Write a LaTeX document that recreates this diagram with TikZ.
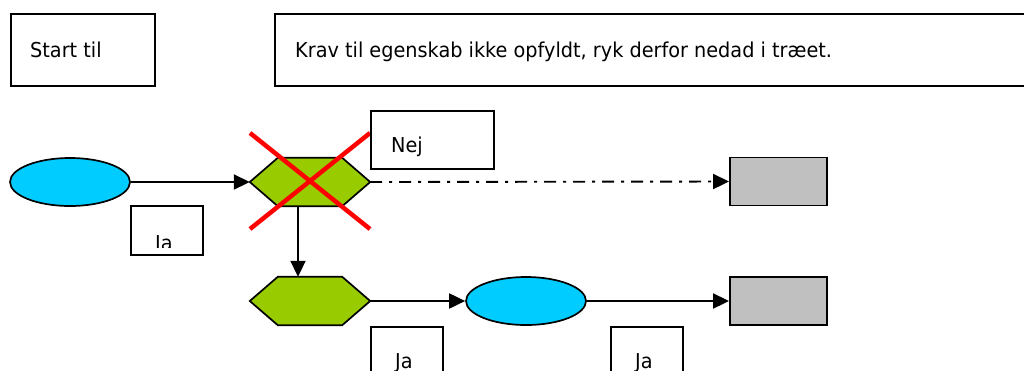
\documentclass[tikz,border=0pt]{standalone}
\usepackage{fontspec}
\setmainfont{DejaVu Sans}[FakeStretch=0.94]
\usetikzlibrary{arrows.meta,shapes.geometric}
\definecolor{cyanfill}{HTML}{00CCFF}
\definecolor{greenfill}{HTML}{99CC00}
\definecolor{grayfill}{HTML}{C0C0C0}
\begin{document}
\begin{tikzpicture}[x=1pt,y=-1pt,
  txt/.style={font=\fontsize{20.5}{24}\selectfont, inner sep=0pt, anchor=base west},
  textbox/.style={draw=black, line width=1.9pt, fill=white, inner sep=0pt},
  oval/.style={ellipse, draw=black, line width=1.7pt, fill=cyanfill, minimum width=120pt, minimum height=48pt, inner sep=0pt},
  hexbase/.style={minimum width=120pt, minimum height=48pt, inner sep=0pt},
  hexshape/.style={draw=black, line width=1.7pt, fill=greenfill, line join=miter},
  graybox/.style={draw=black, line width=1.9pt, fill=grayfill, minimum width=97pt, minimum height=48pt, inner sep=0pt},
  conn/.style={draw=black, line width=1.9pt, -{Triangle[length=16pt,width=15pt]}},
  dashdot/.style={dash pattern=on 12pt off 7pt on 3pt off 7pt},
  cross/.style={draw=red, line width=4.5pt}
]
\useasboundingbox (0,0) rectangle (1024,370);
\clip (0,0) rectangle (1024,370);

% top text boxes
\node[textbox, minimum width=144pt, minimum height=72pt, anchor=north west] (startbox) at (10,13) {};
\node[txt] (starttxt) at (30,57) {Start til};
\node[textbox, minimum width=780pt, minimum height=72pt, anchor=north west] (kravbox) at (274,13) {};
\node[txt] (kravtxt) at (295,57) {Krav til egenskab ikke opfyldt, ryk derfor nedad i træet.};

% shapes
\node[oval] (e1) at (70,182) {};
\node[hexbase] (h1) at (310,182) {};
\node[graybox] (g1) at (778.5,181.5) {};
\node[hexbase] (h2) at (310,301) {};
\node[oval] (e2) at (526,301) {};
\node[graybox] (g2) at (778.5,301) {};

\path[hexshape] (h1.west) -- ([xshift=28pt]h1.north west) -- ([xshift=-28pt]h1.north east) -- (h1.east) -- ([xshift=-28pt]h1.south east) -- ([xshift=28pt]h1.south west) -- cycle;
\path[hexshape] (h2.west) -- ([xshift=28pt]h2.north west) -- ([xshift=-28pt]h2.north east) -- (h2.east) -- ([xshift=-28pt]h2.south east) -- ([xshift=28pt]h2.south west) -- cycle;

% connectors
\draw[conn] (e1.east) -- (h1.west);
\draw[conn, dashdot] (h1.east) -- (g1.west);
\draw[conn] ([xshift=-12pt]h1.south) -- ([xshift=-12pt]h2.north);
\draw[conn] (h2.east) -- (e2.west);
\draw[conn] (e2.east) -- (g2.west);

% red cross
\coordinate (xa) at (250,133);
\coordinate (xb) at (370,229);
\coordinate (xc) at (250,229);
\coordinate (xd) at (370,133);
\draw[cross] (xa) -- (xb);
\draw[cross] (xc) -- (xd);

% Nej box
\node[textbox, minimum width=123pt, minimum height=58pt, anchor=north west] (nejbox) at (370,110) {};
\node[txt] (nejtxt) at (391,152) {Nej};

% Ja boxes
\node[textbox, minimum width=72pt, minimum height=49pt, anchor=north west] (ja1box) at (130,205) {};
\begin{scope}
  \clip (130,205) rectangle (202,247);
  \node[txt] (ja1txt) at (155,250) {Ja};
\end{scope}
\node[textbox, minimum width=72pt, minimum height=60pt, anchor=north west] (ja2box) at (370,326) {};
\node[txt] (ja2txt) at (395,368) {Ja};
\node[textbox, minimum width=72pt, minimum height=60pt, anchor=north west] (ja3box) at (610,326) {};
\node[txt] (ja3txt) at (635,368) {Ja};
\end{tikzpicture}
\end{document}
